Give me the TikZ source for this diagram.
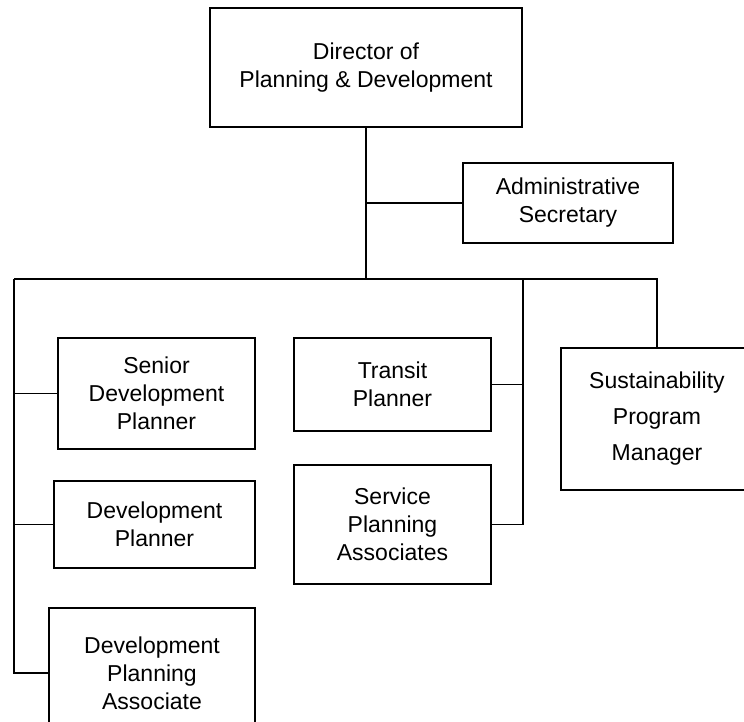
\documentclass[tikz,border=0pt]{standalone}
\usepackage{fontspec}
\setmainfont{Liberation Sans}
\begin{document}
\begin{tikzpicture}[x=1pt,y=-1pt,
    box/.style={draw,line width=1.4pt,align=center,inner sep=0pt,
      font=\fontsize{23}{28}\selectfont},
    link/.style={line width=1.4pt}]
  \useasboundingbox (0,0) rectangle (744,721);
  \clip (0,0) rectangle (744,721);
  % boxes
  \node[box,minimum width=312,minimum height=119] (dir) at (366,67.5) {Director of\\Planning \& Development};
  \node[box,minimum width=210,minimum height=80] (adm) at (568,203) {Administrative\\Secretary};
  \node[box,minimum width=197,minimum height=111] (sdp) at (156.5,393.5) {Senior\\Development\\Planner};
  \node[box,minimum width=201,minimum height=87] (dp) at (154.5,524.5) {Development\\Planner};
  \node[box,minimum width=206,minimum height=130] (dpa) at (152,673) {Development\\Planning\\Associate};
  \node[box,minimum width=197,minimum height=93] (tp) at (392.5,384.5) {Transit\\Planner};
  \node[box,minimum width=197,minimum height=119] (spa) at (392.5,524.5) {Service\\Planning\\Associates};
  \node[box,minimum width=192,minimum height=142,font=\fontsize{23}{36}\selectfont] (spm) at (657,419) {Sustainability\\Program\\Manager};
  % bus
  \coordinate (bus) at (366,279);
  \coordinate (busL) at (14,279);
  \coordinate (busM) at (523,279);
  \coordinate (busR) at (657,279);
  \draw[link] (dir.south) -- (bus);
  \draw[link] (dir.south |- adm.west) -- (adm.west);
  \draw[link] (busL) -- (busR) -- (spm.north);
  \draw[link] (busL) -- (busL |- dpa.west) -- (dpa.west);
  \draw[link] (busL |- sdp.west) -- (sdp.west);
  \draw[link] (busL |- dp.west) -- (dp.west);
  \draw[link] (busM) -- (busM |- spa.east) -- (spa.east);
  \draw[link] (busM |- tp.east) -- (tp.east);
\end{tikzpicture}
\end{document}
